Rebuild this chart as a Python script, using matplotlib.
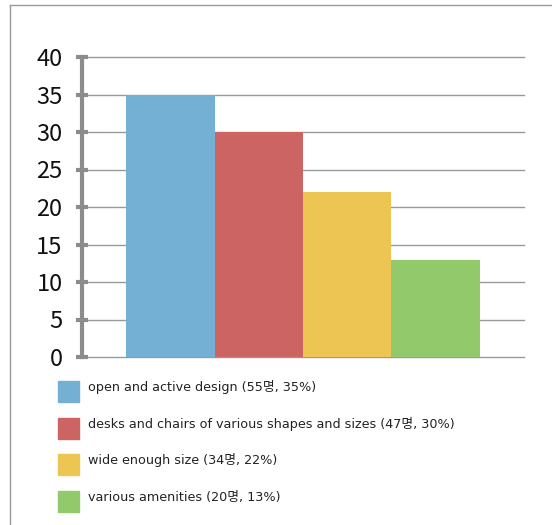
import matplotlib
matplotlib.use('Agg')
import matplotlib.pyplot as plt
from matplotlib.patches import Rectangle
from matplotlib.lines import Line2D

plt.rcParams['font.family'] = ['Noto Sans CJK KR', 'DejaVu Sans']

# Survey results
categories = ['open and active design',
              'desks and chairs of various shapes and sizes',
              'wide enough size',
              'various amenities']
values = [35, 30, 22, 13]
counts = [55, 47, 34, 20]
colors = ['#73B0D4', '#CD6464', '#EDC553', '#92C96A']
yticks = [0, 5, 10, 15, 20, 25, 30, 35, 40]

W, H = 552, 525
fig = plt.figure(figsize=(W / 100, H / 100), dpi=100)
ax = fig.add_axes([82 / W, (H - 357) / H, (524 - 82) / W, 300 / H])

x = list(range(len(values)))
ax.bar(x, values, width=1.0, color=colors, zorder=3)
ax.set_xlim(-1.0, 4.0)
ax.set_ylim(0, 40)
ax.set_yticks(yticks)
ax.set_xticks([])
ax.yaxis.grid(True, color='#999999', linewidth=1.0, zorder=0)
for gl in ax.get_ygridlines():
    gl.set_clip_on(False)

for s in ['top', 'right', 'bottom']:
    ax.spines[s].set_visible(False)
ax.spines['left'].set_color('#8C8C8C')
ax.spines['left'].set_linewidth(3)
ax.spines['left'].set_zorder(4)
ax.tick_params(axis='y', direction='inout', length=8, width=3, color='#8C8C8C',
               labelsize=17, labelcolor='#111111', pad=10)

# Legend rows under the plot
row_top = [381, 418, 454, 491]
for i, (cat, n, v, c) in enumerate(zip(categories, counts, values, colors)):
    y0 = row_top[i]
    fig.patches.append(Rectangle((58 / W, 1 - (y0 + 21) / H), 21 / W, 21 / H,
                                 transform=fig.transFigure, color=c))
    fig.text(88 / W, 1 - (y0 + 10) / H, f'{cat} ({n}명, {v}%)',
             fontsize=9.2, color='#222222', va='baseline', ha='left',
             family=['DejaVu Sans', 'Noto Sans CJK KR'])

# Frame lines along top and left edges
fig.add_artist(Line2D([10 / W, 1], [1 - 5 / H, 1 - 5 / H], color='#999999', linewidth=1,
                      transform=fig.transFigure))
fig.add_artist(Line2D([10 / W, 10 / W], [1 - 5 / H, 1 - 524 / H], color='#999999', linewidth=1,
                      transform=fig.transFigure))

fig.savefig('out.png', dpi=100)
